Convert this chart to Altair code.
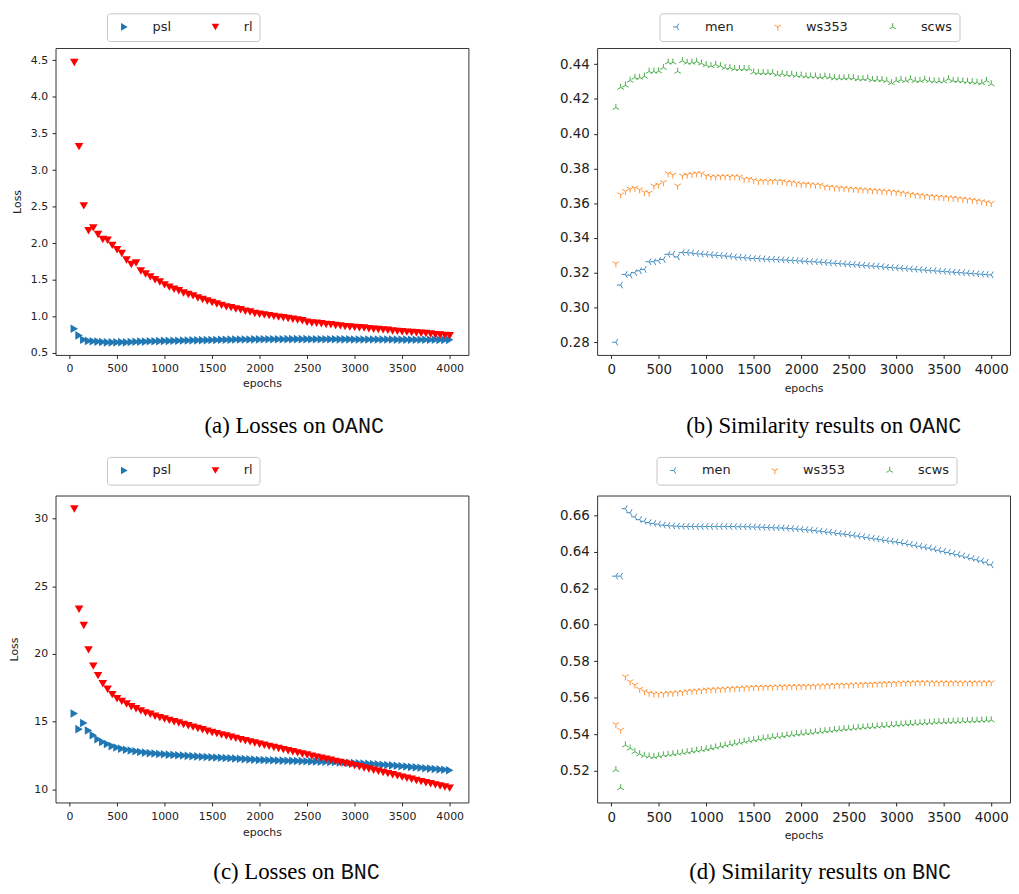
import altair as alt
import pandas as pd

EPOCHS = list(range(50, 4001, 50))
XTICKS = [0, 500, 1000, 1500, 2000, 2500, 3000, 3500, 4000]

# ---------------- (a) OANC losses ----------------
A_PSL = [0.83, 0.74, 0.68, 0.665, 0.66, 0.655, 0.65, 0.645, 0.645, 0.645,
         0.648, 0.645, 0.65, 0.652, 0.655, 0.655, 0.66, 0.66, 0.662, 0.665,
         0.665, 0.668, 0.668, 0.67, 0.67, 0.672, 0.672, 0.675, 0.675, 0.677,
         0.677, 0.68, 0.68, 0.682, 0.683, 0.683, 0.685, 0.685, 0.686, 0.686,
         0.687, 0.687, 0.688, 0.688, 0.688, 0.689, 0.689, 0.689, 0.689, 0.689,
         0.688, 0.688, 0.688, 0.687, 0.687, 0.687, 0.686, 0.686, 0.686, 0.685,
         0.685, 0.685, 0.684, 0.684, 0.684, 0.683, 0.683, 0.683, 0.682, 0.682,
         0.682, 0.681, 0.681, 0.681, 0.68, 0.68, 0.68, 0.679, 0.679, 0.679]
A_RL = [4.47, 3.32, 2.51, 2.17, 2.21, 2.12, 2.05, 2.04, 1.97, 1.91,
        1.86, 1.77, 1.71, 1.73, 1.62, 1.58, 1.54, 1.50, 1.47, 1.43,
        1.40, 1.37, 1.35, 1.32, 1.30, 1.28, 1.25, 1.23, 1.21, 1.19,
        1.17, 1.15, 1.13, 1.12, 1.10, 1.09, 1.07, 1.06, 1.04, 1.03,
        1.02, 1.01, 1.00, 0.99, 0.98, 0.97, 0.96, 0.95, 0.94, 0.92,
        0.91, 0.905, 0.90, 0.89, 0.885, 0.875, 0.87, 0.86, 0.855, 0.85,
        0.845, 0.84, 0.83, 0.825, 0.82, 0.815, 0.81, 0.80, 0.795, 0.79,
        0.785, 0.78, 0.775, 0.77, 0.765, 0.76, 0.75, 0.745, 0.74, 0.735]

# ---------------- (b) OANC similarity ----------------
B_MEN = [0.280, 0.3129, 0.319, 0.3186, 0.320, 0.3211, 0.3219, 0.3263, 0.3263, 0.3269,
         0.3276, 0.3306, 0.3306, 0.3291, 0.3316, 0.3316, 0.3314, 0.331, 0.3308, 0.3306,
         0.3303, 0.3301, 0.3299, 0.3297, 0.3295, 0.3291, 0.3289, 0.3287, 0.3285, 0.3282,
         0.3282, 0.328, 0.3278, 0.3277, 0.3276, 0.3274, 0.3273, 0.3271, 0.327, 0.3268,
         0.3266, 0.3264, 0.3263, 0.3261, 0.3259, 0.3257, 0.3255, 0.3253, 0.3251, 0.3249,
         0.3247, 0.3245, 0.3243, 0.3241, 0.3239, 0.3237, 0.3235, 0.3232, 0.323, 0.3228,
         0.3226, 0.3224, 0.3222, 0.322, 0.3218, 0.3216, 0.3214, 0.3212, 0.321, 0.3208,
         0.3206, 0.3204, 0.3202, 0.32, 0.3198, 0.3196, 0.3194, 0.3192, 0.319, 0.3188]
B_WS = [0.3253, 0.3649, 0.3669, 0.3682, 0.3687, 0.3678, 0.3663, 0.3659, 0.370, 0.3706,
        0.372, 0.3771, 0.3763, 0.370, 0.3758, 0.3763, 0.3767, 0.3771, 0.3771, 0.3758,
        0.3752, 0.3752, 0.3754, 0.3754, 0.3752, 0.3754, 0.3752, 0.3739, 0.3739, 0.3733,
        0.3726, 0.3729, 0.3726, 0.3729, 0.3726, 0.3726, 0.372, 0.372, 0.3714, 0.371,
        0.371, 0.3707, 0.3705, 0.3705, 0.3695, 0.3693, 0.369, 0.3688, 0.3686, 0.3684,
        0.3682, 0.368, 0.3678, 0.3676, 0.3674, 0.3672, 0.367, 0.3668, 0.3666, 0.3664,
        0.366, 0.3656, 0.3652, 0.3648, 0.3645, 0.3642, 0.364, 0.3638, 0.3636, 0.3634,
        0.3632, 0.363, 0.3627, 0.3624, 0.3621, 0.3618, 0.3614, 0.361, 0.3605, 0.360]
B_SCWS = [0.415, 0.4266, 0.4278, 0.4306, 0.4323, 0.4323, 0.433, 0.4358, 0.4358, 0.436,
          0.438, 0.4411, 0.4411, 0.4358, 0.4419, 0.441, 0.441, 0.4415, 0.4405, 0.4396,
          0.439, 0.4398, 0.439, 0.438, 0.438, 0.4373, 0.4373, 0.4373, 0.4373, 0.4354,
          0.435, 0.435, 0.435, 0.435, 0.434, 0.4345, 0.434, 0.434, 0.4335, 0.4335,
          0.433, 0.433, 0.433, 0.4325, 0.433, 0.4325, 0.432, 0.432, 0.432, 0.4322,
          0.432, 0.4315, 0.4315, 0.4318, 0.431, 0.4312, 0.431, 0.4305, 0.4292, 0.4305,
          0.431, 0.4305, 0.4315, 0.4305, 0.4305, 0.4312, 0.4305, 0.4302, 0.4302, 0.4302,
          0.4315, 0.4305, 0.4305, 0.4302, 0.430, 0.4298, 0.4295, 0.4292, 0.4305, 0.4286]

# ---------------- (c) BNC losses ----------------
C_PSL = [15.6, 14.45, 14.9, 14.35, 14.0, 13.7, 13.5, 13.35, 13.2, 13.1,
         13.0, 12.93, 12.87, 12.82, 12.77, 12.72, 12.68, 12.65, 12.62, 12.6,
         12.57, 12.55, 12.52, 12.5, 12.48, 12.46, 12.44, 12.42, 12.4, 12.38,
         12.36, 12.34, 12.32, 12.3, 12.28, 12.26, 12.24, 12.22, 12.2, 12.18,
         12.17, 12.16, 12.15, 12.14, 12.13, 12.12, 12.11, 12.1, 12.09, 12.08,
         12.07, 12.06, 12.05, 12.04, 12.03, 12.02, 12.0, 11.99, 11.97, 11.95,
         11.93, 11.91, 11.89, 11.87, 11.85, 11.83, 11.8, 11.78, 11.75, 11.72,
         11.69, 11.66, 11.63, 11.6, 11.57, 11.54, 11.51, 11.48, 11.45, 11.42]
C_RL = [30.7, 23.3, 22.1, 20.3, 19.1, 18.4, 17.8, 17.4, 17.0, 16.7,
        16.5, 16.3, 16.1, 15.95, 15.8, 15.65, 15.55, 15.4, 15.3, 15.2,
        15.1, 15.0, 14.9, 14.8, 14.7, 14.6, 14.5, 14.4, 14.3, 14.2,
        14.12, 14.03, 13.94, 13.85, 13.77, 13.68, 13.6, 13.51, 13.43, 13.34,
        13.26, 13.18, 13.1, 13.02, 12.94, 12.86, 12.78, 12.70, 12.62, 12.54,
        12.46, 12.38, 12.30, 12.23, 12.15, 12.07, 11.99, 11.91, 11.84, 11.76,
        11.68, 11.59, 11.51, 11.42, 11.34, 11.25, 11.17, 11.08, 11.0, 10.91,
        10.83, 10.75, 10.66, 10.58, 10.5, 10.42, 10.34, 10.26, 10.18, 10.1]

# ---------------- (d) BNC similarity ----------------
D_MEN = [0.6266, 0.6266, 0.6636, 0.6614, 0.6591, 0.6576, 0.6567, 0.656, 0.6555, 0.6551,
         0.6546, 0.6544, 0.6542, 0.654, 0.6539, 0.6538, 0.6538, 0.6538, 0.6538, 0.6538,
         0.6538, 0.6538, 0.6538, 0.6538, 0.6538, 0.6538, 0.6537, 0.6537, 0.6537, 0.6536,
         0.6535, 0.6534, 0.6533, 0.6532, 0.6531, 0.653, 0.6529, 0.6527, 0.6525, 0.6523,
         0.6521, 0.6519, 0.6516, 0.6513, 0.651, 0.6507, 0.6504, 0.65, 0.6497, 0.6494,
         0.649, 0.6486, 0.6482, 0.6478, 0.6474, 0.647, 0.6466, 0.6462, 0.6458, 0.6454,
         0.645, 0.6445, 0.644, 0.6435, 0.643, 0.6425, 0.642, 0.6414, 0.6408, 0.6402,
         0.6396, 0.639, 0.6384, 0.6377, 0.637, 0.6363, 0.6356, 0.6349, 0.6342, 0.6328]
D_WS = [0.5453, 0.5422, 0.5715, 0.5688, 0.567, 0.5647, 0.5634, 0.5625, 0.5621, 0.5621,
        0.5621, 0.5625, 0.5625, 0.5628, 0.563, 0.5634, 0.5636, 0.5638, 0.564, 0.5643,
        0.5644, 0.5645, 0.5647, 0.5648, 0.565, 0.5651, 0.5652, 0.5654, 0.5655, 0.5657,
        0.5657, 0.5658, 0.5659, 0.5659, 0.566, 0.566, 0.5661, 0.5662, 0.5662, 0.5663,
        0.5663, 0.5664, 0.5664, 0.5665, 0.5666, 0.5667, 0.5668, 0.5669, 0.567, 0.567,
        0.5671, 0.5672, 0.5673, 0.5674, 0.5675, 0.5676, 0.5677, 0.5678, 0.5679, 0.568,
        0.5681, 0.5682, 0.5682, 0.5683, 0.5683, 0.5683, 0.5683, 0.5682, 0.5682, 0.5682,
        0.5682, 0.5682, 0.5682, 0.5682, 0.5682, 0.5682, 0.5682, 0.5682, 0.5683, 0.5683]
D_SCWS = [0.5204, 0.5105, 0.5339, 0.5322, 0.5303, 0.5291, 0.5282, 0.5278, 0.5276, 0.528,
          0.5285, 0.5288, 0.5291, 0.5294, 0.5298, 0.5302, 0.5306, 0.531, 0.5314, 0.5318,
          0.5323, 0.5328, 0.5334, 0.5339, 0.5344, 0.5349, 0.5354, 0.5359, 0.5364, 0.5368,
          0.5372, 0.5376, 0.538, 0.5384, 0.5387, 0.539, 0.5394, 0.5397, 0.54, 0.5403,
          0.5406, 0.5408, 0.5411, 0.5414, 0.5417, 0.5419, 0.5422, 0.5425, 0.5428, 0.543,
          0.5432, 0.5435, 0.5437, 0.5439, 0.5441, 0.5443, 0.5445, 0.5447, 0.5449, 0.5451,
          0.5453, 0.5455, 0.5457, 0.5459, 0.546, 0.5462, 0.5463, 0.5465, 0.5466, 0.5467,
          0.5468, 0.5469, 0.547, 0.5471, 0.5472, 0.5473, 0.5474, 0.5475, 0.5476, 0.5477]

LOSS_NAMES = ["psl", "rl"]
LOSS_COLORS = ["#1f77b4", "#ff0000"]
LOSS_SHAPES = ["triangle-right", "triangle-down"]

SIM_NAMES = ["men", "ws353", "scws"]
SIM_COLORS = ["#1f77b4", "#ff7f0e", "#2ca02c"]
TRI_LEFT = "M0,0L-1,0M0,0L0.5,-0.866M0,0L0.5,0.866"
TRI_DOWN = "M0,0L0,1M0,0L-0.866,-0.5M0,0L0.866,-0.5"
TRI_UP = "M0,0L0,-1M0,0L-0.866,0.5M0,0L0.866,0.5"
SIM_SHAPES = [TRI_LEFT, TRI_DOWN, TRI_UP]

A_YTICKS = [0.5, 1.0, 1.5, 2.0, 2.5, 3.0, 3.5, 4.0, 4.5]
B_YTICKS = [0.28, 0.30, 0.32, 0.34, 0.36, 0.38, 0.40, 0.42, 0.44]
C_YTICKS = [10, 15, 20, 25, 30]
D_YTICKS = [0.52, 0.54, 0.56, 0.58, 0.60, 0.62, 0.64, 0.66]

W, H = 417, 310


def long_df(names, series):
    rows = []
    for name, vals in zip(names, series):
        for e, v in zip(EPOCHS, vals):
            rows.append({"epoch": e, "value": v, "series": name})
    return pd.DataFrame(rows)


def panel(df, names, colors, shapes, filled, ydomain, yticks, yfmt, tick_fs,
          leg_x, leg_y, ytitle_x, cap_a, cap_b, cap_x, cap_y, xtitle_pad):
    leg = alt.Legend(
        orient="none", legendX=leg_x, legendY=leg_y, direction="horizontal",
        title=" ", titleOrient="left", titlePadding=4, titleFontSize=13,
        labelFont="DejaVu Sans", labelFontSize=13, labelColor="#222",
        symbolSize=60 if filled else 58, symbolStrokeWidth=1, labelOffset=22,
        columnPadding=38, padding=7, strokeColor="#c4c4c4", fillColor="white",
        cornerRadius=3,
    )
    yaxis_kw = dict(values=yticks, format=yfmt, labelFontSize=tick_fs)
    if ytitle_x is not None:
        yaxis_kw.update(title="Loss", titleX=ytitle_x, titleFontSize=11)
    else:
        yaxis_kw.update(title=None)
    x = alt.X("epoch:Q",
              scale=alt.Scale(domain=[-147.5, 4197.5], nice=False, zero=False),
              axis=alt.Axis(values=XTICKS, format="d", title="epochs",
                            labelFontSize=tick_fs, titleFontSize=11,
                            titlePadding=xtitle_pad, labelFlush=False))
    y = alt.Y("value:Q",
              scale=alt.Scale(domain=ydomain, nice=False, zero=False),
              axis=alt.Axis(**yaxis_kw))
    if filled:
        mark = alt.Chart(df).mark_point(filled=True, size=75, opacity=1)
    else:
        mark = alt.Chart(df).mark_point(filled=False, size=58, strokeWidth=1, opacity=0.85)
    pts = mark.encode(
        x=x, y=y,
        color=alt.Color("series:N", scale=alt.Scale(domain=names, range=colors), legend=leg),
        shape=alt.Shape("series:N", scale=alt.Scale(domain=names, range=shapes), legend=leg),
    )
    c1 = alt.Chart(pd.DataFrame({"t": [cap_a]})).mark_text(
        font="Liberation Serif", fontSize=23, align="right", baseline="alphabetic",
        color="black").encode(text="t:N", x=alt.value(cap_x), y=alt.value(cap_y))
    c2 = alt.Chart(pd.DataFrame({"t": [cap_b]})).mark_text(
        font="Liberation Mono", fontSize=22, align="left", baseline="alphabetic",
        color="#111").encode(text="t:N", x=alt.value(cap_x + 6), y=alt.value(cap_y))
    return alt.layer(pts, c1, c2).properties(width=W, height=H)


pa = panel(long_df(LOSS_NAMES, [A_PSL, A_RL]), LOSS_NAMES, LOSS_COLORS, LOSS_SHAPES, True,
           [0.473, 4.668], A_YTICKS, ".1f", 11, 52, -35, -33,
           "(a) Losses on", "OANC", 273, 389, 4)
pb = panel(long_df(SIM_NAMES, [B_MEN, B_WS, B_SCWS]), SIM_NAMES, SIM_COLORS, SIM_SHAPES, False,
           [0.2727, 0.4493], B_YTICKS, ".2f", 13.5, 63, -35, None,
           "(b) Similarity results on", "OANC", 309, 389, 6)
pc = panel(long_df(LOSS_NAMES, [C_PSL, C_RL]), LOSS_NAMES, LOSS_COLORS, LOSS_SHAPES, True,
           [9.04, 31.69], C_YTICKS, "d", 11, 52, -39, -36,
           "(c) Losses on", "BNC", 282, 387, 5)
pd_ = panel(long_df(SIM_NAMES, [D_MEN, D_WS, D_SCWS]), SIM_NAMES, SIM_COLORS, SIM_SHAPES, False,
            [0.5025, 0.6708], D_YTICKS, ".2f", 13.5, 60, -39, None,
            "(d) Similarity results on", "BNC", 312, 387, 6)

chart = alt.concat(
    pa, pb, pc, pd_, columns=2, spacing={"row": 17, "column": 90},
    align="each", bounds="full",
).resolve_scale(color="independent", shape="independent", x="independent", y="independent"
).properties(padding=0, background="white"
).configure_view(stroke="#333", strokeWidth=1
).configure_axis(
    domain=False, grid=False, ticks=True, tickColor="#222", tickSize=3.5, tickWidth=1,
    labelFont="DejaVu Sans", labelColor="#222", labelPadding=4.5,
    titleFont="DejaVu Sans", titleFontWeight="normal", titleColor="#222",
)

chart.save("out.html", embed_options={"renderer": "svg", "actions": False})
